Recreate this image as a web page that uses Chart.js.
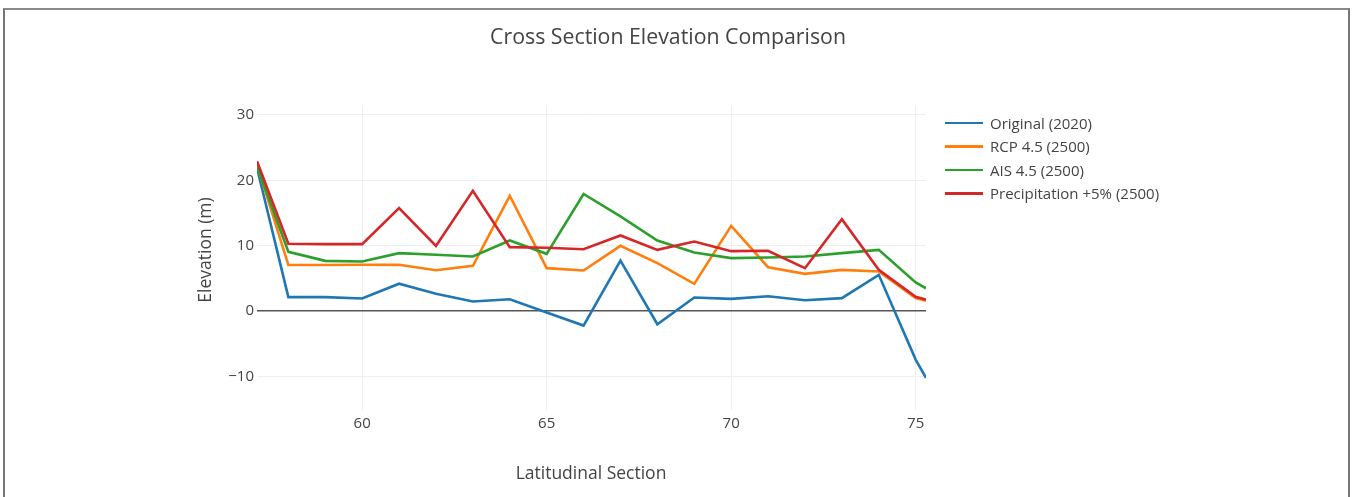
<!DOCTYPE html>
<html>
<head>
<meta charset="utf-8">
<script src="https://cdn.jsdelivr.net/npm/chart.js@4/dist/chart.umd.min.js"></script>
<style>
  body { margin: 0; background: #fff; font-family: "Open Sans", sans-serif; color: #444; }
  #wrap { position: relative; width: 1352px; height: 497px; overflow: hidden; }
  #frame { position: absolute; left: 3px; top: 8px; width: 1343px; height: 500px;
           border-top: 2px solid #8a8a8a; border-left: 2px solid #777; border-right: 2px solid #777; }
  canvas { position: absolute; left: 0; top: 0; }
  .txt { position: absolute; white-space: nowrap; transform: translate(-50%, -50%); }
  #legend { position: absolute; left: 945px; top: 111px; font-size: 15px; }
  .row { height: 23.5px; display: flex; align-items: center; }
  .sw { width: 38px; height: 2.5px; margin-right: 7px; }
</style>
</head>
<body>
<div id="wrap">
  <canvas id="myChart" width="1352" height="497"></canvas>
  <div id="frame"></div>
  <div class="txt" style="left:668px; top:35px; font-size:21.3px;">Cross Section Elevation Comparison</div>
  <div class="txt" style="left:204px; top:250px; font-size:17.5px; transform: translate(-50%,-50%) rotate(-90deg);">Elevation (m)</div>
  <div class="txt" style="left:591px; top:472px; font-size:17.5px;">Latitudinal Section</div>
  <div id="legend"></div>
</div>
<script>
'use strict'
// latitude of each section
let latitudes = [57.15, 58, 59, 60, 61, 62, 63, 64, 65, 66, 67, 68, 69, 70, 71, 72, 73, 74, 75, 75.28];

let original = [21.9, 2.14, 2.15, 1.93, 4.2, 2.65, 1.47, 1.83, -0.2, -2.2, 7.74, -2.0, 2.08, 1.88, 2.29, 1.68, 1.99, 5.55, -7.4, -10.2];
let rcp45 = [22.4, 7.08, 7.05, 7.1, 7.08, 6.26, 6.93, 17.63, 6.57, 6.21, 9.98, 7.34, 4.17, 13.04, 6.72, 5.7, 6.31, 6.06, 2.0, 1.6];
let ais45 = [22.1, 9.07, 7.69, 7.59, 8.87, 8.61, 8.35, 10.8, 8.76, 17.9, 14.47, 10.8, 8.97, 8.1, 8.2, 8.35, 8.87, 9.37, 4.4, 3.5];
let precip5 = [22.9, 10.29, 10.25, 10.24, 15.75, 9.98, 18.39, 9.78, 9.68, 9.47, 11.56, 9.37, 10.64, 9.17, 9.22, 6.57, 14.06, 6.31, 2.2, 1.75];

let seriesNames = ['Original (2020)', 'RCP 4.5 (2500)', 'AIS 4.5 (2500)', 'Precipitation +5% (2500)'];
let seriesColors = ['#1f77b4', '#ff7f0e', '#2ca02c', '#d62728'];
let xTicks = [60, 65, 70, 75];
let yTicks = [-10, 0, 10, 20, 30];

let allSeries = [original, rcp45, ais45, precip5];
let datasets = [];
for (let i = 0; i < allSeries.length; i++) {
    datasets.push({
        label: seriesNames[i],
        data: allSeries[i].map((v, j) => ({ x: latitudes[j], y: v })),
        borderColor: seriesColors[i],
        backgroundColor: seriesColors[i],
        borderWidth: 2.6,
        pointRadius: 0,
        tension: 0,
        order: allSeries.length - i
    });
}

// legend on the right
let legendEl = document.getElementById('legend');
for (let i = 0; i < seriesNames.length; i++) {
    let row = document.createElement('div');
    row.className = 'row';
    row.innerHTML = '<div class="sw" style="background:' + seriesColors[i] + '"></div><span>' + seriesNames[i] + '</span>';
    legendEl.appendChild(row);
}

let tickFont = { family: 'Open Sans', size: 15 };

var ctx = document.getElementById('myChart').getContext('2d');
var myChart = new Chart(ctx, {
    type: 'line',
    data: { datasets: datasets },
    options: {
        responsive: false,
        animation: false,
        layout: { padding: { left: 190, right: 426, top: 105, bottom: 0 } },
        plugins: { legend: { display: false }, tooltip: { enabled: false } },
        scales: {
            x: {
                type: 'linear',
                min: latitudes[0],
                max: latitudes[latitudes.length - 1],
                afterBuildTicks: (s) => { s.ticks = xTicks.map(v => ({ value: v })); },
                afterFit: (s) => { s.height = 87; },
                border: { display: false },
                grid: { color: '#eee', lineWidth: 1, drawTicks: false },
                ticks: { font: tickFont, color: '#444', padding: 5, maxRotation: 0 }
            },
            y: {
                type: 'linear',
                min: -15.1,
                max: 31.5,
                afterBuildTicks: (s) => { s.ticks = yTicks.map(v => ({ value: v })); },
                afterFit: (s) => { s.width = 67; },
                border: { display: false },
                grid: {
                    color: (c) => c.tick && c.tick.value === 0 ? '#555' : '#eee',
                    lineWidth: (c) => c.tick && c.tick.value === 0 ? 1.5 : 1,
                    drawTicks: false
                },
                ticks: {
                    font: tickFont, color: '#444', padding: 3,
                    callback: (v) => String(v).replace('-', '\u2212')
                }
            }
        }
    }
});
</script>
</body>
</html>
